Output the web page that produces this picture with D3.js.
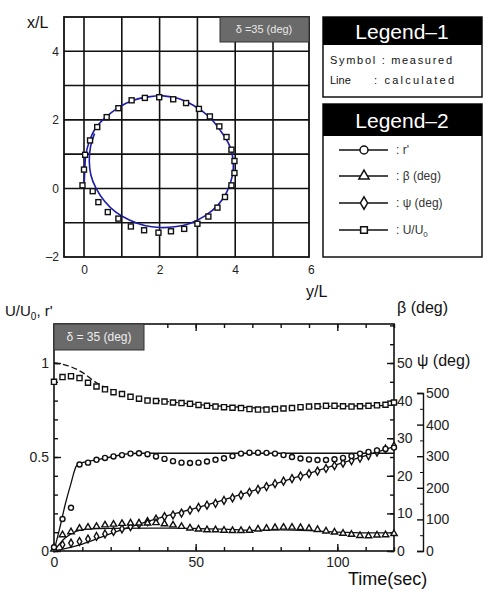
<!DOCTYPE html>
<html>
<head>
<meta charset="utf-8">
<script src="https://cdn.jsdelivr.net/npm/d3@7"></script>
<style>
  body { margin: 0; background: #fff; }
  svg { font-family: "Liberation Sans", Arial, sans-serif; }
  .tick text { fill: #222; }
</style>
</head>
<body>
<div id="chart"></div>
<script>
// ---- top chart: trajectory (y/L, x/L) ----
const trackCalc = [
  [0, 0], [0.02, 0.5], [0.05, 1.0], [0.15, 1.4], [0.3, 1.75], [0.55, 2.05], [0.9, 2.35],
  [1.3, 2.57], [1.7, 2.67], [2.1, 2.7], [2.5, 2.62], [2.9, 2.42], [3.3, 2.1], [3.6, 1.7],
  [3.85, 1.25], [3.95, 0.8], [3.92, 0.35], [3.78, -0.1], [3.55, -0.48], [3.2, -0.8],
  [2.8, -1.02], [2.4, -1.12], [2.0, -1.14], [1.6, -1.08], [1.2, -0.92], [0.85, -0.7],
  [0.55, -0.38], [0.32, 0.0], [0.18, 0.4], [0.14, 0.8], [0.17, 1.2], [0.28, 1.6]
];
const trackMeas = [
  [-0.04, 0.09], [0, 0.55], [0.03, 0.98], [0.16, 1.4], [0.35, 1.79], [0.6, 2.08], [0.91, 2.34],
  [1.26, 2.57], [1.61, 2.64], [1.99, 2.66], [2.36, 2.6], [2.7, 2.49], [3.04, 2.32], [3.33, 2.1],
  [3.58, 1.81], [3.77, 1.5], [3.9, 1.13], [3.98, 0.8], [3.98, 0.45], [3.9, 0.09], [3.73, -0.25],
  [3.53, -0.56], [3.29, -0.82], [3.0, -1.03], [2.65, -1.18], [2.3, -1.25], [1.97, -1.29],
  [1.59, -1.22], [1.24, -1.11], [0.91, -0.88], [0.63, -0.69], [0.38, -0.4], [0.23, -0.08]
];
const topXTicks = [0, 2, 4, 6];
const topYTicks = [-2, 0, 2, 4];
const topXGrid = [0, 1, 2, 3, 4, 5];
const topYGrid = [-1, 0, 1, 2, 3, 4];

// ---- bottom chart: time histories ----
const timeMeas = [0, 3, 6, 9, 12, 15, 18, 21, 24, 27, 30, 33, 36, 39, 42, 45, 48, 51, 54, 57, 60,
  63, 66, 69, 72, 75, 78, 81, 84, 87, 90, 93, 96, 99, 102, 105, 108, 111, 114, 117, 120];
const uMeas = [0.90, 0.925, 0.93, 0.92, 0.895, 0.875, 0.86, 0.845, 0.835, 0.82, 0.81, 0.80, 0.798,
  0.795, 0.79, 0.787, 0.783, 0.777, 0.772, 0.768, 0.765, 0.762, 0.76, 0.755, 0.752, 0.752, 0.755,
  0.758, 0.76, 0.765, 0.768, 0.77, 0.772, 0.772, 0.77, 0.768, 0.77, 0.772, 0.775, 0.778, 0.79];
const rMeas = [0.02, 0.17, 0.23, 0.46, 0.47, 0.485, 0.495, 0.503, 0.51, 0.518, 0.52, 0.515, 0.503,
  0.49, 0.478, 0.47, 0.468, 0.47, 0.476, 0.485, 0.493, 0.505, 0.518, 0.523, 0.523, 0.522, 0.518,
  0.51, 0.50, 0.492, 0.487, 0.484, 0.484, 0.488, 0.495, 0.505, 0.518, 0.527, 0.535, 0.543, 0.55];
const betaMeas = [0.5, 4.3, 5.1, 6.0, 6.3, 6.5, 6.9, 7.1, 7.3, 7.4, 7.4, 7.4, 7.5, 7.2, 6.9, 6.5,
  6.1, 5.8, 5.6, 5.6, 5.5, 5.4, 5.4, 5.5, 5.8, 6.0, 6.2, 6.3, 6.3, 6.2, 6.0, 5.7, 5.3, 5.0, 4.7,
  4.4, 4.1, 4.0, 4.2, 4.3, 4.6];
const psiMeas = [10, 20, 25, 30, 38, 46, 54, 62, 70, 77, 85, 93, 101, 109, 114, 120, 129, 138, 145,
  151, 160, 168, 177, 186, 195, 204, 213, 221, 229, 237, 245, 253, 261, 270, 278, 286, 294, 302,
  313, 323, 332];

const uCalcT = [0, 5, 10, 15, 20, 25, 30, 40, 50, 60, 70, 80, 90, 100, 110, 120];
const uCalc = [1.0, 0.985, 0.95, 0.895, 0.86, 0.835, 0.815, 0.795, 0.78, 0.77, 0.762, 0.76, 0.765, 0.77, 0.772, 0.775];
const rCalcT = [0, 2, 4, 6, 8, 10, 15, 20, 25, 30, 40, 60, 80, 100, 120];
const rCalc = [0, 0.12, 0.25, 0.36, 0.455, 0.47, 0.485, 0.50, 0.515, 0.52, 0.52, 0.52, 0.52, 0.52, 0.52];
const betaCalcT = [0, 4, 8, 12, 20, 40, 60, 70, 80, 90, 100, 110, 120];
const betaCalc = [0, 3.5, 5.3, 5.8, 6.0, 6.1, 5.8, 5.5, 5.6, 5.4, 5.0, 4.8, 4.8];
const psiCalcT = [0, 10, 20, 30, 40, 50, 60, 70, 80, 90, 100, 110, 120];
const psiCalc = [0, 22, 55, 85, 112, 136, 162, 190, 218, 246, 274, 302, 330];

const leftTicks = [0, 0.5, 1];
const timeTicks = [0, 50, 100];
const betaTicks = [0, 10, 20, 30, 40, 50];
const psiTicks = [0, 100, 200, 300, 400, 500];

const svg = d3.select('#chart').append('svg').attr('width', 502).attr('height', 595);
const ink = '#111';

// ================= top chart =================
const xs = d3.scaleLinear().domain([-0.529, 5.952]).range([64, 309]);
const ys = d3.scaleLinear().domain([-2, 5]).range([257, 17]);

const topG = svg.append('g');
topG.selectAll('.vg').data(topXGrid).enter().append('line')
  .attr('x1', d => xs(d)).attr('x2', d => xs(d)).attr('y1', 17).attr('y2', 257)
  .attr('stroke', ink).attr('stroke-width', 1.6);
topG.selectAll('.hg').data(topYGrid).enter().append('line')
  .attr('x1', 64).attr('x2', 309).attr('y1', d => ys(d)).attr('y2', d => ys(d))
  .attr('stroke', ink).attr('stroke-width', 1.6);
topG.append('rect').attr('x', 64).attr('y', 17).attr('width', 245).attr('height', 240)
  .attr('fill', 'none').attr('stroke', ink).attr('stroke-width', 1.8);

topG.append('g').attr('transform', 'translate(64,0)')
  .call(d3.axisLeft(ys).tickValues(topYTicks).tickSize(0).tickPadding(5).tickFormat(d => d < 0 ? '\u2013' + (-d) : String(d)))
  .call(g => g.select('.domain').remove())
  .selectAll('text').attr('font-size', 12);
topG.append('g').attr('transform', 'translate(0,257)')
  .call(d3.axisBottom(xs).tickValues(topXTicks).tickSize(0).tickPadding(8).tickFormat(d => String(d)))
  .call(g => g.select('.domain').remove())
  .selectAll('text').attr('font-size', 12);

const line2 = d3.line().x(d => xs(d[0])).y(d => ys(d[1])).curve(d3.curveCatmullRom);
topG.append('path').datum(trackCalc).attr('d', line2)
  .attr('fill', 'none').attr('stroke', '#1c1ca8').attr('stroke-width', 1.6);
topG.selectAll('.tm').data(trackMeas).enter().append('rect')
  .attr('x', d => xs(d[0]) - 2.5).attr('y', d => ys(d[1]) - 2.5).attr('width', 5).attr('height', 5)
  .attr('fill', '#fff').attr('stroke', ink).attr('stroke-width', 1.4);

// delta box
topG.append('rect').attr('x', 220).attr('y', 17).attr('width', 89).attr('height', 25)
  .attr('fill', '#6a6a6a').attr('stroke', '#333');
topG.append('text').attr('x', 264).attr('y', 33).attr('text-anchor', 'middle')
  .attr('font-size', 11).attr('fill', '#e8e8e8').text('\u03b4 =35 (deg)');

topG.append('text').attr('x', 27).attr('y', 28).attr('font-size', 16).attr('fill', ink).text('x/L');
topG.append('text').attr('x', 306).attr('y', 297).attr('font-size', 16).attr('fill', ink).text('y/L');

// legends
const lg = svg.append('g');
lg.append('rect').attr('x', 323).attr('y', 17).attr('width', 159).attr('height', 80)
  .attr('fill', '#fff').attr('stroke', ink).attr('stroke-width', 1.5);
lg.append('rect').attr('x', 323).attr('y', 17).attr('width', 159).attr('height', 28).attr('fill', '#000');
lg.append('text').attr('x', 402).attr('y', 39).attr('text-anchor', 'middle').attr('font-size', 21)
  .attr('fill', '#fff').text('Legend\u20131');
lg.append('text').attr('x', 330).attr('y', 64).attr('font-size', 11).attr('fill', ink)
  .attr('textLength', 122).text('Symbol : measured');
lg.append('text').attr('x', 330).attr('y', 84).attr('font-size', 11).attr('fill', ink).text('Line');
lg.append('text').attr('x', 374).attr('y', 84).attr('font-size', 11).attr('fill', ink)
  .attr('textLength', 80).text(': calculated');

lg.append('rect').attr('x', 323).attr('y', 104).attr('width', 159).attr('height', 153)
  .attr('fill', '#fff').attr('stroke', ink).attr('stroke-width', 1.5);
lg.append('rect').attr('x', 323).attr('y', 104).attr('width', 159).attr('height', 32).attr('fill', '#000');
lg.append('text').attr('x', 402).attr('y', 128).attr('text-anchor', 'middle').attr('font-size', 21)
  .attr('fill', '#fff').text('Legend\u20132');

const symCircle = d3.symbol().type(d3.symbolCircle).size(50)();
const symTri = d3.symbol().type(d3.symbolTriangle).size(45)();
const symDia = d3.symbol().type(d3.symbolDiamond).size(45)();
const symSq = d3.symbol().type(d3.symbolSquare).size(45)();

const legItems = [
  { sym: symCircle, label: ": r'", y: 150 },
  { sym: symTri, label: ': \u03b2 (deg)', y: 176 },
  { sym: symDia, label: ': \u03c8 (deg)', y: 203 },
  { sym: symSq, label: ': U/U', sub: '0', y: 230 }
];
legItems.forEach(it => {
  lg.append('line').attr('x1', 339).attr('x2', 388).attr('y1', it.y).attr('y2', it.y)
    .attr('stroke', ink).attr('stroke-width', 1.5);
  lg.append('path').attr('d', it.sym).attr('transform', `translate(364,${it.y})`)
    .attr('fill', '#fff').attr('stroke', ink).attr('stroke-width', 1.5);
  const t = lg.append('text').attr('x', 396).attr('y', it.y + 4).attr('font-size', 12).attr('fill', '#333').text(it.label);
  if (it.sub) t.append('tspan').attr('font-size', 8).attr('dy', 3).text(it.sub);
});

// ================= bottom chart =================
const xt = d3.scaleLinear().domain([0, 120]).range([54, 394]);
const yl = d3.scaleLinear().domain([0, 1.2]).range([551, 325.4]);
const yb = d3.scaleLinear().domain([0, 60]).range([551, 325.4]);
const yp = d3.scaleLinear().domain([0, 500]).range([551, 393]);

const bot = svg.append('g');
bot.append('rect').attr('x', 54).attr('y', 324).attr('width', 340).attr('height', 227)
  .attr('fill', 'none').attr('stroke', ink).attr('stroke-width', 1.6);

const fs = 14;
const strip = g => g.select('.domain').remove();
// minor ticks
bot.append('g').attr('transform', 'translate(54,0)')
  .call(d3.axisLeft(yl).tickValues(d3.range(0, 1.21, 0.1)).tickSize(-4).tickFormat('')).call(strip);
bot.append('g').attr('transform', 'translate(0,551)')
  .call(d3.axisBottom(xt).tickValues(d3.range(0, 121, 10)).tickSize(-4).tickFormat('')).call(strip);
bot.append('g').attr('transform', 'translate(0,324)')
  .call(d3.axisTop(xt).tickValues(d3.range(0, 121, 10)).tickSize(-4).tickFormat('')).call(strip);
bot.append('g').attr('transform', 'translate(394,0)')
  .call(d3.axisRight(yb).tickValues(d3.range(0, 61, 5)).tickSize(-4).tickFormat('')).call(strip);
// major ticks + labels
bot.append('g').attr('transform', 'translate(54,0)')
  .call(d3.axisLeft(yl).tickValues(leftTicks).tickSizeInner(-7).tickPadding(5).tickFormat(d => String(d))).call(strip)
  .selectAll('text').attr('font-size', fs);
bot.append('g').attr('transform', 'translate(0,551)')
  .call(d3.axisBottom(xt).tickValues(timeTicks).tickSizeInner(-7).tickPadding(6)).call(strip)
  .selectAll('text').attr('font-size', fs);
bot.append('g').attr('transform', 'translate(0,324)')
  .call(d3.axisTop(xt).tickValues(timeTicks).tickSizeInner(-7).tickFormat('')).call(strip);
bot.append('g').attr('transform', 'translate(394,0)')
  .call(d3.axisRight(yb).tickValues(betaTicks).tickSizeInner(-7).tickPadding(3)).call(strip)
  .selectAll('text').attr('font-size', fs);
bot.selectAll('.tick line').attr('stroke', ink).attr('stroke-width', 1.4);

// psi axis (bracket)
const pa = bot.append('g').attr('transform', 'translate(423,0)')
  .call(d3.axisRight(yp).tickValues(psiTicks).tickSizeInner(-6).tickSizeOuter(-6).tickPadding(3));
pa.selectAll('text').attr('font-size', fs);
pa.select('.domain').attr('stroke', ink).attr('stroke-width', 1.4);
pa.selectAll('.tick line').attr('stroke', ink).attr('stroke-width', 1.4);
bot.append('g').attr('transform', 'translate(423,0)')
  .call(d3.axisRight(yp).tickValues(d3.range(50, 500, 100)).tickSize(-3).tickFormat('')).call(strip)
  .selectAll('line').attr('stroke', ink);

// calculated lines
const calc = [
  { t: uCalcT, v: uCalc, s: yl, dash: '6,3' },
  { t: rCalcT, v: rCalc, s: yl, dash: null },
  { t: betaCalcT, v: betaCalc, s: yb, dash: null },
  { t: psiCalcT, v: psiCalc, s: yp, dash: null }
];
calc.forEach(c => {
  const ln = d3.line().x(d => xt(c.t[d])).y(d => c.s(c.v[d])).curve(d3.curveMonotoneX);
  bot.append('path').datum(d3.range(c.t.length)).attr('d', ln)
    .attr('fill', 'none').attr('stroke', ink).attr('stroke-width', 1.3)
    .attr('stroke-dasharray', c.dash);
});

// measured symbols
const meas = [
  { v: psiMeas, s: yp, sym: d3.symbol().type(d3.symbolDiamond).size(18)() },
  { v: betaMeas, s: yb, sym: d3.symbol().type(d3.symbolTriangle).size(18)() },
  { v: rMeas, s: yl, sym: d3.symbol().type(d3.symbolCircle).size(20)() },
  { v: uMeas, s: yl, sym: d3.symbol().type(d3.symbolSquare).size(26)() }
];
meas.forEach(m => {
  bot.append('g').selectAll('path').data(timeMeas).enter().append('path')
    .attr('d', m.sym)
    .attr('transform', (d, i) => `translate(${xt(d)},${m.s(m.v[i])})`)
    .attr('fill', '#fff').attr('stroke', ink).attr('stroke-width', 1.4);
});

// delta box
bot.append('rect').attr('x', 54).attr('y', 324).attr('width', 90).attr('height', 26)
  .attr('fill', '#6a6a6a').attr('stroke', '#333');
bot.append('text').attr('x', 99).attr('y', 341).attr('text-anchor', 'middle')
  .attr('font-size', 12).attr('fill', '#eee').text('\u03b4 = 35 (deg)');

// axis titles
const ut = bot.append('text').attr('x', 5).attr('y', 316).attr('font-size', 15).attr('fill', ink).text('U/U');
ut.append('tspan').attr('font-size', 10).attr('dy', 4).text('0');
ut.append('tspan').attr('dy', -4).text(", r'");
bot.append('text').attr('x', 397).attr('y', 313).attr('font-size', 16).attr('fill', ink).text('\u03b2 (deg)');
bot.append('text').attr('x', 417).attr('y', 366).attr('font-size', 16).attr('fill', ink).text('\u03c8 (deg)');
bot.append('text').attr('x', 348).attr('y', 585).attr('font-size', 18).attr('fill', ink).text('Time(sec)');
</script>
</body>
</html>
